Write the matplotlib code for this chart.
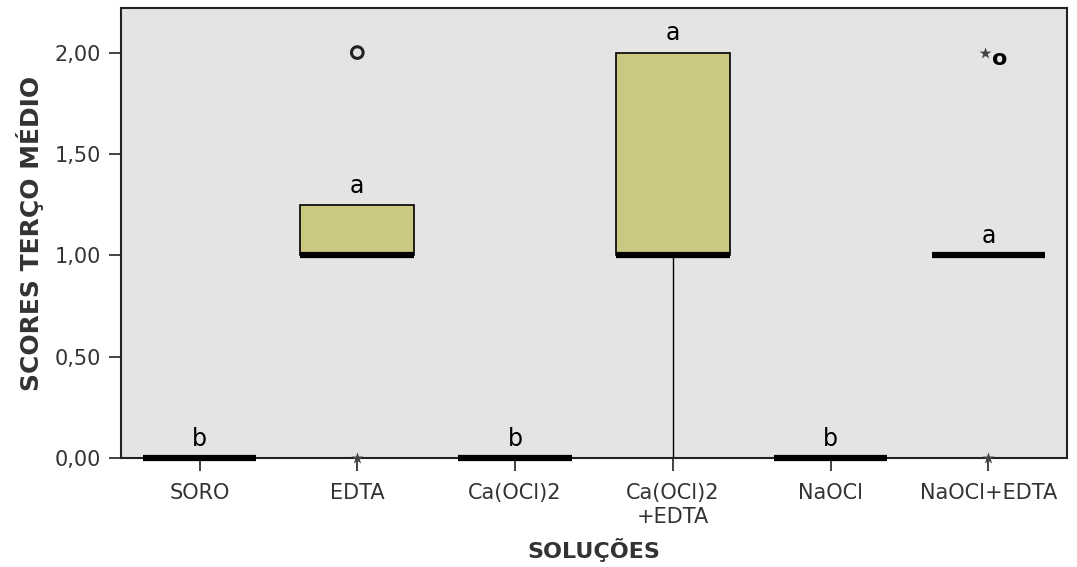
import matplotlib
matplotlib.use('Agg')
import matplotlib.pyplot as plt

plt.rcParams['font.family'] = ['DejaVu Sans']

# grupos e estatisticas das caixas
grupos = ['SORO', 'EDTA', 'Ca(OCl)2', 'Ca(OCl)2\n+EDTA', 'NaOCl', 'NaOCl+EDTA']
q1 = [0, 1, 0, 1, 0, 1]
mediana = [0, 1, 0, 1, 0, 1]
q3 = [0, 1.25, 0, 2, 0, 1]
wmin = [0, 1, 0, 0, 0, 1]
wmax = [0, 1.25, 0, 2, 0, 1]
letras = ['b', 'a', 'b', 'a', 'b', 'a']
letra_y = [0.0, 1.25, 0.0, 2.0, 0.0, 1.0]

# outliers: circulos (o) e extremos (*)
circ_x = [2, 6]
circ_y = [2.0, 2.0]
ext_x = [2, 6, 6]
ext_y = [0.0, 0.0, 2.0]

yticks = [0, 0.5, 1.0, 1.5, 2.0]
ytick_labels = ['0,00', '0,50', '1,00', '1,50', '2,00']

fig = plt.figure(figsize=(10.77, 5.67), dpi=100)
ax = fig.add_axes([0.112, 0.192, 0.879, 0.794])
ax.set_facecolor('#e4e4e4')

stats = []
for i in range(len(grupos)):
    stats.append({'med': mediana[i], 'q1': q1[i], 'q3': q3[i],
                  'whislo': wmin[i], 'whishi': wmax[i], 'fliers': []})

pos = list(range(1, len(grupos) + 1))
bp = ax.bxp(stats, positions=pos, widths=0.72, patch_artist=True, showcaps=False,
            showfliers=False,
            boxprops=dict(facecolor='#cbc882', edgecolor='black', linewidth=1.2),
            medianprops=dict(color='black', linewidth=4.5, solid_capstyle='butt'),
            whiskerprops=dict(color='black', linewidth=1.0))
for m in bp['medians']:
    m.set_clip_on(False)
    m.set_zorder(4)

# outliers
ax.scatter([circ_x[0]], [circ_y[0]], s=70, facecolors='none',
           edgecolors='#222222', linewidths=2.2, zorder=5, clip_on=False)
ax.text(circ_x[1] + 0.07, circ_y[1] - 0.03, 'o', fontsize=16, fontweight='bold',
        ha='center', va='center', color='black', zorder=5)
for x, y in zip(ext_x, ext_y):
    ax.scatter([x - (0.02 if y > 0 else 0)], [y], marker='*', s=80, color='#444444',
               zorder=5, clip_on=False, linewidths=0)

for p, l, y in zip(pos, letras, letra_y):
    ax.text(p, y + 0.035, l, ha='center', va='bottom', fontsize=17, color='black')

ax.set_xlim(0.5, 6.5)
ax.set_ylim(0, 2.22)
ax.set_yticks(yticks)
ax.set_yticklabels(ytick_labels)
ax.set_xticks(pos)
ax.set_xticklabels(grupos, linespacing=1.25)
ax.tick_params(axis='both', direction='out', length=9, width=1.2, color='#222222',
               labelsize=15, labelcolor='#333333', pad=5)
ax.tick_params(axis='x', pad=9)
for s in ax.spines.values():
    s.set_linewidth(1.5)
    s.set_color('#222222')

ax.set_ylabel('SCORES TERÇO MÉDIO', fontsize=18, fontweight='bold', color='#333333',
              labelpad=8)
ax.set_xlabel('SOLUÇÕES', fontsize=16, fontweight='bold', color='#333333', labelpad=8)

fig.savefig('out.png', dpi=100)
